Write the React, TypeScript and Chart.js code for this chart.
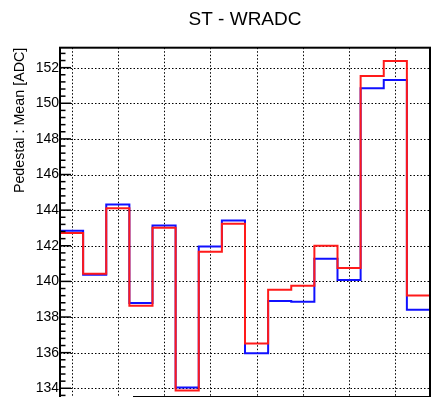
import React, { useEffect, useRef } from "react";
import { Chart, registerables } from "chart.js";

Chart.register(...registerables);

// ---- data ----
const BINS = [0, 1, 2, 3, 4, 5, 6, 7, 8, 9, 10, 11, 12, 13, 14, 15];
const BLUE_VALUES = [
  142.85, 140.37, 144.32, 138.79, 143.14, 134.04, 141.96, 143.42,
  135.96, 138.9, 138.86, 141.27, 140.08, 150.84, 151.31, 138.41,
];
const RED_VALUES = [
  142.72, 140.43, 144.11, 138.63, 143.01, 133.87, 141.66, 143.23,
  136.52, 139.53, 139.76, 142.0, 140.75, 151.53, 152.38, 139.21,
];
const X_TICKS = [0, 2, 4, 6, 8, 10, 12, 14];
const Y_TICKS = [134, 136, 138, 140, 142, 144, 146, 148, 150, 152];
const TITLE = "ST - WRADC";
const Y_TITLE = "Pedestal : Mean [ADC]";

// ---- axis ranges ----
const X_MIN = -0.5;
const X_MAX = 15.5;
const Y_MIN = 132;
const Y_MAX = 153.12;
const MINOR_STEP = 0.4;
const MAJOR_STEP = 2;
const LEGEND_X0 = 2.65;
const LEGEND_TOP = 133.57;

const W = 435;
const H = 464;
const FONT = "'Liberation Sans', Arial, Helvetica, sans-serif";

function toSteps(values: number[]) {
  const pts = BINS.map((b, i) => ({ x: b - 0.5, y: values[i] }));
  const last = BINS.length - 1;
  pts.push({ x: BINS[last] + 0.5, y: values[last] });
  return pts;
}

const rootPlugin = {
  id: "rootFrame",
  beforeDatasetsDraw(chart: any) {
    const { ctx, chartArea: a, scales } = chart;
    const xs = scales.x;
    const ys = scales.y;
    ctx.save();
    ctx.strokeStyle = "#000";
    ctx.lineWidth = 1;
    ctx.setLineDash([1.5, 2]);
    for (const t of X_TICKS) {
      const px = Math.round(xs.getPixelForValue(t)) + 0.5;
      ctx.beginPath();
      ctx.moveTo(px, a.top);
      ctx.lineTo(px, a.bottom);
      ctx.stroke();
    }
    for (const t of Y_TICKS) {
      const py = Math.round(ys.getPixelForValue(t)) + 0.5;
      ctx.beginPath();
      ctx.moveTo(a.left, py);
      ctx.lineTo(a.right, py);
      ctx.stroke();
    }
    ctx.restore();
  },
  afterDatasetsDraw(chart: any) {
    const { ctx, chartArea: a, scales } = chart;
    const xs = scales.x;
    const ys = scales.y;
    ctx.save();
    // legend box (bottom, mostly outside the visible area)
    const lx = Math.round(xs.getPixelForValue(LEGEND_X0)) + 0.5;
    const ly = Math.round(ys.getPixelForValue(LEGEND_TOP)) + 0.5;
    ctx.fillStyle = "#fff";
    ctx.fillRect(lx, ly, a.right - lx, a.bottom - ly);
    ctx.strokeStyle = "#000";
    ctx.lineWidth = 1;
    ctx.strokeRect(lx, ly, a.right - lx, a.bottom - ly);

    // y ticks inside the frame
    ctx.lineWidth = 1.5;
    const base = Y_TICKS[0];
    const kStart = Math.ceil((Y_MIN - base) / MINOR_STEP - 1e-9);
    const kEnd = Math.floor((Y_MAX - base) / MINOR_STEP + 1e-9);
    for (let k = kStart; k <= kEnd; k++) {
      const v = base + k * MINOR_STEP;
      const r = (v - base) / MAJOR_STEP;
      const major = Math.abs(r - Math.round(r)) < 1e-6;
      const py = ys.getPixelForValue(v);
      ctx.beginPath();
      ctx.moveTo(a.left, py);
      ctx.lineTo(a.left + (major ? 11 : 5.5), py);
      ctx.stroke();
    }

    // frame
    ctx.lineWidth = 2;
    ctx.strokeRect(a.left, a.top, a.right - a.left, a.bottom - a.top);
    ctx.restore();
  },
};

export default function App() {
  const ref = useRef<HTMLCanvasElement | null>(null);

  useEffect(() => {
    if (!ref.current) return;
    const chart = new Chart(ref.current, {
      type: "line",
      data: {
        datasets: [
          {
            label: "Red",
            data: toSteps(RED_VALUES),
            borderColor: "#ff1a1a",
            borderWidth: 2,
            stepped: "before",
            pointRadius: 0,
            fill: false,
            tension: 0,
          },
          {
            label: "Blue",
            data: toSteps(BLUE_VALUES),
            borderColor: "#1010ff",
            borderWidth: 2,
            stepped: "before",
            pointRadius: 0,
            fill: false,
            tension: 0,
          },
        ],
      },
      options: {
        responsive: false,
        animation: false,
        events: [],
        layout: { padding: { left: 0, right: 5, top: 0, bottom: 0 } },
        plugins: {
          legend: { display: false },
          tooltip: { enabled: false },
          title: {
            display: true,
            text: TITLE,
            fullSize: false,
            color: "#000",
            font: { family: FONT, size: 19, weight: "normal", lineHeight: 1.2 },
            padding: { top: 8.6, bottom: 16.3 },
          },
        },
        scales: {
          x: {
            type: "linear",
            min: X_MIN,
            max: X_MAX,
            afterBuildTicks: (s: any) => {
              s.ticks = X_TICKS.map((v) => ({ value: v }));
            },
            afterFit: (s: any) => {
              s.height = 40.1;
            },
            ticks: { display: false },
            grid: { display: false, drawTicks: false },
            border: { display: false },
          },
          y: {
            type: "linear",
            min: Y_MIN,
            max: Y_MAX,
            afterBuildTicks: (s: any) => {
              s.ticks = Y_TICKS.map((v) => ({ value: v }));
            },
            afterFit: (s: any) => {
              s.width = 60;
            },
            ticks: {
              color: "#000",
              font: { family: FONT, size: 14 },
              padding: 1,
              autoSkip: false,
              callback: (v: any) => String(v),
            },
            grid: { display: false, drawTicks: false },
            border: { display: false },
            title: {
              display: true,
              text: Y_TITLE,
              align: "end",
              color: "#000",
              font: { family: FONT, size: 14.3, lineHeight: 1.2 },
              padding: { top: 11.4, bottom: 0 },
            },
          },
        },
      },
      plugins: [rootPlugin],
    } as any);
    return () => chart.destroy();
  }, []);

  return (
    <div
      style={{
        position: "fixed",
        left: 0,
        top: 0,
        width: W,
        height: 397,
        overflow: "hidden",
        background: "#fff",
      }}
    >
      <canvas ref={ref} width={W} height={H} style={{ display: "block", width: W, height: H }} />
    </div>
  );
}
